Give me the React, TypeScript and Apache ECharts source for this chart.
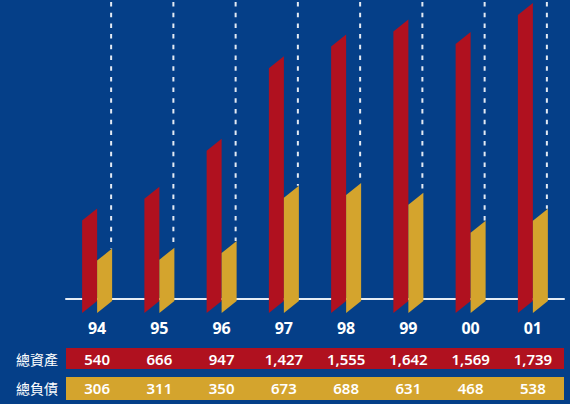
import React, { useEffect, useRef } from "react";
import * as echarts from "echarts";

const years = ["94", "95", "96", "97", "98", "99", "00", "01"];
const assets = [540, 666, 947, 1427, 1555, 1642, 1569, 1739];
const liabilities = [306, 311, 350, 673, 688, 631, 468, 538];
const rowLabels = ["總資產", "總負債"];

const BG = "#053f88";
const RED = "#b0111f";
const GOLD = "#d4a42d";
const Y_MAX = 1750;
const fmt = (v: number) => v.toLocaleString("en-US");

function barRender(side: number, color: string) {
  return (params: any, api: any) => {
    const i = api.value(0);
    const v = api.value(1);
    const top = api.coord([i, v]);
    const base = api.coord([i, 0]);
    const cx = top[0];
    const w = 15;
    const slant = 12;
    const xl = side < 0 ? cx - w : cx;
    const xr = side < 0 ? cx : cx + w;
    const yt = top[1];
    const yb = base[1];
    return {
      type: "polygon",
      shape: {
        points: [
          [xl, yt + slant],
          [xr, yt],
          [xr, yb],
          [xl, yb + slant],
        ],
      },
      style: { fill: color },
    };
  };
}

export default function App() {
  const ref = useRef<HTMLDivElement>(null);
  useEffect(() => {
    if (!ref.current) return;
    const chart = echarts.init(ref.current, null, { renderer: "svg" });
    const labelFont = "'Noto Sans', 'Open Sans', sans-serif";
    chart.setOption({
      animation: false,
      backgroundColor: BG,
      grid: { left: 66, right: 6, top: 1, bottom: 103 },
      xAxis: [
        {
          type: "category",
          data: years,
          offset: -2,
          axisLine: { show: true, lineStyle: { color: "#e6ecf4", width: 2 } },
          axisTick: { show: false },
          axisLabel: {
            color: "#ffffff",
            fontSize: 16,
            fontWeight: "bold",
            fontFamily: labelFont,
            margin: 21,
          },
        },
        {
          type: "category",
          data: assets.map(fmt),
          position: "bottom",
          offset: 50,
          axisLine: { show: false },
          axisTick: { show: false },
          axisLabel: {
            color: "#ffffff",
            fontSize: 15,
            fontWeight: 600,
            fontFamily: labelFont,
            margin: 0,
          },
        },
        {
          type: "category",
          data: liabilities.map(fmt),
          position: "bottom",
          offset: 79,
          axisLine: { show: false },
          axisTick: { show: false },
          axisLabel: {
            color: "#ffffff",
            fontSize: 15,
            fontWeight: 600,
            fontFamily: labelFont,
            margin: 0,
          },
        },
      ],
      yAxis: {
        type: "value",
        min: 0,
        max: Y_MAX,
        show: false,
        splitLine: { show: false },
      },
      graphic: [
        {
          type: "rect",
          z: -10,
          shape: { x: 66, y: 348, width: 498, height: 21 },
          style: { fill: RED },
        },
        {
          type: "rect",
          z: -10,
          shape: { x: 66, y: 377, width: 498, height: 23 },
          style: { fill: GOLD },
        },
        {
          type: "text",
          x: 16,
          y: 358.5,
          style: {
            text: rowLabels[0],
            fill: "#ffffff",
            fontSize: 14,
            fontFamily: "'Noto Sans CJK TC', sans-serif",
            verticalAlign: "middle",
          },
        },
        {
          type: "text",
          x: 16,
          y: 388,
          style: {
            text: rowLabels[1],
            fill: "#ffffff",
            fontSize: 14,
            fontFamily: "'Noto Sans CJK TC', sans-serif",
            verticalAlign: "middle",
          },
        },
      ],
      series: [
        {
          type: "custom",
          name: "dash",
          xAxisIndex: 0,
          data: liabilities.map((v, i) => [i, v]),
          encode: { x: 0, y: 1 },
          renderItem: (params: any, api: any) => {
            const i = api.value(0);
            const v = api.value(1);
            const top = api.coord([i, v]);
            const upper = api.coord([i, Y_MAX]);
            const x = top[0] + 14;
            return {
              type: "line",
              shape: { x1: x, y1: upper[1] + 1, x2: x, y2: top[1] },
              style: { stroke: "#e4eaf3", lineWidth: 2, lineDash: [4.5, 6.2] },
            };
          },
        },
        {
          type: "custom",
          name: "總資產",
          xAxisIndex: 0,
          data: assets.map((v, i) => [i, v]),
          encode: { x: 0, y: 1 },
          renderItem: barRender(-1, RED),
        },
        {
          type: "custom",
          name: "總負債",
          xAxisIndex: 0,
          data: liabilities.map((v, i) => [i, v]),
          encode: { x: 0, y: 1 },
          renderItem: barRender(1, GOLD),
        },
      ],
    });
    return () => chart.dispose();
  }, []);
  return <div ref={ref} style={{ width: 570, height: 404, position: "absolute", left: 0, top: 0 }} />;
}
